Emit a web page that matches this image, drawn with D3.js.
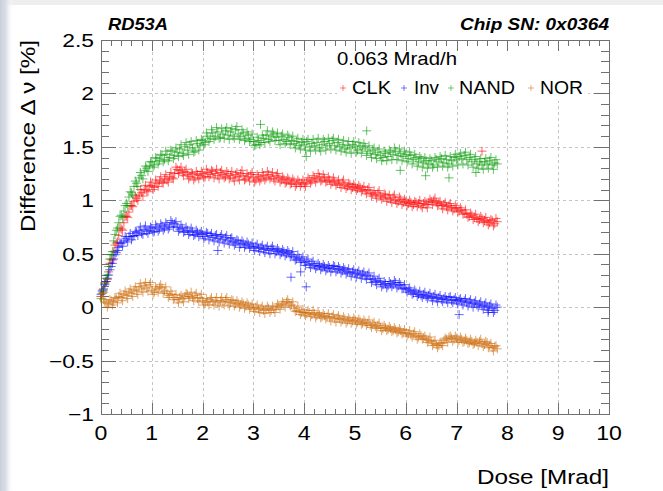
<!DOCTYPE html>
<html><head><meta charset="utf-8">
<script src="https://cdn.jsdelivr.net/npm/d3@7"></script>
<style>html,body{margin:0;padding:0;background:#fff;overflow:hidden}</style>
</head><body>
<svg id="c" width="663" height="491"></svg>
<script>
// ---------------- data ----------------
// measurement doses (two interleaved read-out sets)
const dose = [
0,0.05,0.1,0.15,0.2,0.25,0.3,0.35,0.4,0.45,
0.5,0.55,0.6,0.65,0.7,0.75,0.8,0.85,0.9,0.95,
1,1.05,1.1,1.15,1.2,1.25,1.3,1.35,1.4,1.45,
1.5,1.55,1.6,1.65,1.7,1.75,1.8,1.85,1.9,1.95,
2,2.05,2.1,2.15,2.2,2.25,2.3,2.35,2.4,2.45,
2.5,2.55,2.6,2.65,2.7,2.75,2.8,2.85,2.9,2.95,
3,3.05,3.1,3.15,3.2,3.25,3.3,3.35,3.4,3.45,
3.5,3.55,3.6,3.65,3.7,3.75,3.8,3.85,3.9,3.95,
4,4.05,4.1,4.15,4.2,4.25,4.3,4.35,4.4,4.45,
4.5,4.55,4.6,4.65,4.7,4.75,4.8,4.85,4.9,4.95,
5,5.05,5.1,5.15,5.2,5.25,5.3,5.35,5.4,5.45,
5.5,5.55,5.6,5.65,5.7,5.75,5.8,5.85,5.9,5.95,
6,6.05,6.1,6.15,6.2,6.25,6.3,6.35,6.4,6.45,
6.5,6.55,6.6,6.65,6.7,6.75,6.8,6.85,6.9,6.95,
7,7.05,7.1,7.15,7.2,7.25,7.3,7.35,7.4,7.45,
7.5,7.55,7.6,7.65,7.7,7.75,7.8];
const dose2 = [
0.025,0.075,0.125,0.175,0.225,0.275,0.325,0.375,0.425,0.475,
0.525,0.575,0.625,0.675,0.725,0.775,0.825,0.875,0.925,0.975,
1.025,1.075,1.125,1.175,1.225,1.275,1.325,1.375,1.425,1.475,
1.525,1.575,1.625,1.675,1.725,1.775,1.825,1.875,1.925,1.975,
2.025,2.075,2.125,2.175,2.225,2.275,2.325,2.375,2.425,2.475,
2.525,2.575,2.625,2.675,2.725,2.775,2.825,2.875,2.925,2.975,
3.025,3.075,3.125,3.175,3.225,3.275,3.325,3.375,3.425,3.475,
3.525,3.575,3.625,3.675,3.725,3.775,3.825,3.875,3.925,3.975,
4.025,4.075,4.125,4.175,4.225,4.275,4.325,4.375,4.425,4.475,
4.525,4.575,4.625,4.675,4.725,4.775,4.825,4.875,4.925,4.975,
5.025,5.075,5.125,5.175,5.225,5.275,5.325,5.375,5.425,5.475,
5.525,5.575,5.625,5.675,5.725,5.775,5.825,5.875,5.925,5.975,
6.025,6.075,6.125,6.175,6.225,6.275,6.325,6.375,6.425,6.475,
6.525,6.575,6.625,6.675,6.725,6.775,6.825,6.875,6.925,6.975,
7.025,7.075,7.125,7.175,7.225,7.275,7.325,7.375,7.425,7.475,
7.525,7.575,7.625,7.675,7.725,7.775];

const clk = [
0.10,0.14,0.24,0.33,0.45,0.52,0.60,0.67,0.73,0.79,
0.85,0.89,0.95,0.99,1.02,1.05,1.07,1.10,1.09,1.13,
1.14,1.12,1.16,1.18,1.17,1.20,1.19,1.22,1.21,1.25,
1.29,1.28,1.26,1.27,1.24,1.22,1.25,1.21,1.24,1.23,
1.25,1.22,1.26,1.24,1.27,1.25,1.23,1.26,1.24,1.22,
1.25,1.23,1.21,1.24,1.22,1.25,1.23,1.20,1.22,1.24,
1.21,1.19,1.22,1.20,1.23,1.21,1.24,1.22,1.20,1.23,
1.21,1.19,1.20,1.17,1.19,1.16,1.18,1.15,1.17,1.16,
1.15,1.17,1.19,1.18,1.21,1.20,1.22,1.19,1.21,1.18,
1.19,1.17,1.18,1.16,1.15,1.17,1.14,1.13,1.15,1.12,
1.13,1.11,1.12,1.10,1.09,1.10,1.07,1.06,1.05,1.07,
1.04,1.03,1.05,1.02,1.01,1.03,1.00,0.99,1.01,0.98,
0.99,0.97,0.98,0.96,0.98,0.97,0.95,0.97,0.96,0.98,
0.99,1.00,0.98,0.97,0.95,0.96,0.94,0.95,0.93,0.92,
0.93,0.90,0.91,0.88,0.87,0.85,0.86,0.84,0.83,0.82,
0.83,0.81,0.80,0.79,0.81,0.78,0.80];
const clk2 = [
0.16,0.22,0.26,0.41,0.44,0.58,0.61,0.74,0.72,0.85,
0.84,0.95,0.94,1.04,1.00,1.10,1.04,1.14,1.08,1.17,
1.10,1.19,1.13,1.22,1.16,1.24,1.17,1.26,1.20,1.31,
1.25,1.31,1.23,1.29,1.20,1.26,1.19,1.27,1.20,1.27,
1.21,1.29,1.22,1.28,1.21,1.29,1.20,1.28,1.21,1.27,
1.20,1.27,1.18,1.26,1.19,1.28,1.19,1.25,1.18,1.26,
1.17,1.24,1.18,1.26,1.19,1.27,1.20,1.26,1.18,1.25,
1.17,1.22,1.16,1.21,1.15,1.20,1.13,1.19,1.13,1.19,
1.13,1.21,1.16,1.23,1.17,1.25,1.18,1.24,1.17,1.22,
1.15,1.21,1.14,1.19,1.12,1.19,1.11,1.16,1.10,1.15,
1.09,1.14,1.08,1.13,1.06,1.12,1.04,1.09,1.02,1.09,
1.01,1.06,0.99,1.05,0.98,1.05,0.97,1.03,0.96,1.01,
0.95,1.00,0.94,0.99,0.94,1.00,0.93,0.99,0.93,1.01,
0.96,1.02,0.95,0.99,0.92,0.98,0.91,0.97,0.90,0.95,
0.89,0.93,0.87,0.91,0.84,0.88,0.82,0.87,0.80,0.85,
0.79,0.84,0.77,0.82,0.76,0.83];

const inv = [
0.12,0.17,0.24,0.30,0.38,0.45,0.51,0.56,0.60,0.62,
0.64,0.66,0.63,0.67,0.70,0.72,0.69,0.73,0.71,0.72,
0.74,0.71,0.75,0.73,0.76,0.74,0.77,0.75,0.79,0.78,
0.75,0.73,0.74,0.71,0.72,0.70,0.71,0.68,0.70,0.69,
0.68,0.66,0.69,0.67,0.65,0.67,0.64,0.66,0.63,0.65,
0.62,0.64,0.61,0.60,0.62,0.59,0.60,0.58,0.59,0.57,
0.56,0.57,0.55,0.56,0.54,0.55,0.53,0.55,0.54,0.52,
0.53,0.51,0.52,0.50,0.51,0.49,0.47,0.45,0.46,0.44,
0.42,0.43,0.40,0.41,0.39,0.38,0.39,0.37,0.38,0.36,
0.37,0.36,0.38,0.35,0.36,0.34,0.35,0.33,0.32,0.33,
0.31,0.32,0.30,0.31,0.29,0.30,0.27,0.26,0.24,0.25,
0.23,0.21,0.22,0.20,0.22,0.21,0.23,0.20,0.21,0.18,
0.17,0.16,0.15,0.13,0.14,0.12,0.11,0.12,0.10,0.11,
0.09,0.10,0.08,0.09,0.07,0.08,0.07,0.09,0.06,0.07,
0.06,0.07,0.05,0.06,0.04,0.05,0.03,0.04,0.02,0.03,
0.01,0.02,0.00,0.01,-0.01,-0.03,0.00];
const inv2 = [
0.15,0.21,0.27,0.35,0.41,0.49,0.53,0.60,0.57,0.66,
0.61,0.69,0.66,0.71,0.67,0.75,0.68,0.76,0.69,0.75,
0.70,0.77,0.71,0.78,0.72,0.79,0.73,0.81,0.75,0.80,
0.71,0.77,0.70,0.75,0.68,0.74,0.67,0.72,0.66,0.71,
0.64,0.70,0.63,0.69,0.62,0.68,0.61,0.68,0.60,0.67,
0.59,0.65,0.58,0.63,0.56,0.62,0.56,0.61,0.55,0.60,
0.53,0.59,0.52,0.58,0.51,0.57,0.50,0.57,0.50,0.55,
0.49,0.54,0.48,0.53,0.47,0.52,0.44,0.49,0.42,0.47,
0.39,0.45,0.37,0.43,0.36,0.41,0.35,0.40,0.34,0.39,
0.33,0.39,0.33,0.38,0.32,0.37,0.31,0.36,0.29,0.35,
0.28,0.34,0.27,0.33,0.26,0.32,0.23,0.29,0.21,0.27,
0.19,0.24,0.18,0.24,0.19,0.25,0.18,0.23,0.17,0.21,
0.14,0.18,0.12,0.16,0.10,0.15,0.09,0.14,0.08,0.13,
0.06,0.12,0.05,0.11,0.05,0.10,0.04,0.10,0.04,0.09,
0.03,0.08,0.02,0.08,0.01,0.07,0.00,0.06,0.00,0.05,
-0.02,0.04,-0.03,0.03,-0.05,0.02];

const nand = [
0.08,0.16,0.27,0.38,0.49,0.62,0.72,0.79,0.86,0.90,
0.97,1.03,1.07,1.13,1.16,1.21,1.23,1.28,1.30,1.32,
1.36,1.33,1.39,1.37,1.42,1.38,1.43,1.40,1.46,1.42,
1.45,1.48,1.44,1.50,1.47,1.52,1.49,1.46,1.53,1.51,
1.56,1.54,1.60,1.58,1.63,1.60,1.64,1.59,1.62,1.65,
1.61,1.64,1.60,1.66,1.62,1.60,1.63,1.58,1.61,1.57,
1.55,1.52,1.56,1.54,1.58,1.61,1.57,1.60,1.62,1.59,
1.56,1.60,1.57,1.55,1.59,1.56,1.53,1.55,1.51,1.54,
1.52,1.55,1.50,1.53,1.51,1.54,1.49,1.52,1.55,1.51,
1.53,1.56,1.51,1.54,1.50,1.52,1.48,1.51,1.49,1.52,
1.50,1.47,1.51,1.48,1.50,1.46,1.44,1.47,1.43,1.45,
1.42,1.40,1.44,1.41,1.45,1.43,1.46,1.42,1.44,1.41,
1.43,1.39,1.42,1.38,1.40,1.36,1.39,1.35,1.37,1.34,
1.37,1.33,1.38,1.36,1.39,1.35,1.38,1.34,1.37,1.40,
1.38,1.41,1.39,1.42,1.38,1.40,1.36,1.38,1.34,1.36,
1.33,1.36,1.34,1.37,1.33,1.35,1.34];
const nand2 = [
0.13,0.23,0.30,0.45,0.52,0.68,0.74,0.85,0.84,0.95,
0.95,1.08,1.05,1.18,1.13,1.26,1.20,1.32,1.27,1.36,
1.31,1.40,1.34,1.43,1.36,1.46,1.37,1.47,1.39,1.49,
1.41,1.52,1.42,1.54,1.43,1.55,1.45,1.56,1.47,1.57,
1.52,1.63,1.55,1.66,1.57,1.68,1.58,1.67,1.58,1.68,
1.57,1.67,1.58,1.69,1.57,1.66,1.56,1.64,1.55,1.62,
1.51,1.59,1.52,1.61,1.54,1.65,1.55,1.64,1.56,1.63,
1.52,1.62,1.53,1.61,1.52,1.60,1.49,1.58,1.48,1.57,
1.47,1.57,1.46,1.57,1.47,1.58,1.46,1.57,1.47,1.58,
1.48,1.58,1.47,1.57,1.46,1.56,1.45,1.55,1.44,1.55,
1.45,1.54,1.44,1.53,1.42,1.51,1.40,1.49,1.39,1.48,
1.37,1.46,1.37,1.47,1.38,1.49,1.38,1.48,1.37,1.46,
1.36,1.45,1.34,1.43,1.32,1.41,1.31,1.40,1.30,1.39,
1.31,1.40,1.31,1.41,1.32,1.42,1.31,1.41,1.32,1.43,
1.33,1.44,1.34,1.45,1.33,1.43,1.31,1.41,1.30,1.39,
1.29,1.39,1.30,1.40,1.29,1.38];

const nor = [
0.10,0.07,0.04,0.03,0.06,0.05,0.08,0.10,0.09,0.12,
0.11,0.14,0.13,0.16,0.15,0.19,0.17,0.20,0.18,0.21,
0.16,0.14,0.17,0.19,0.18,0.15,0.13,0.11,0.12,0.09,
0.07,0.09,0.08,0.10,0.12,0.10,0.09,0.11,0.08,0.09,
0.06,0.04,0.05,0.07,0.05,0.06,0.04,0.06,0.05,0.07,
0.05,0.04,0.06,0.03,0.04,0.02,0.03,0.01,0.02,0.00,
-0.01,0.00,-0.02,-0.01,-0.03,-0.02,-0.01,-0.03,-0.02,0.00,
0.01,0.02,0.03,0.05,0.04,0.02,-0.01,-0.03,-0.04,-0.05,
-0.05,-0.06,-0.05,-0.07,-0.06,-0.08,-0.07,-0.09,-0.08,-0.09,
-0.10,-0.09,-0.11,-0.10,-0.11,-0.12,-0.11,-0.13,-0.12,-0.13,
-0.12,-0.14,-0.13,-0.15,-0.14,-0.15,-0.17,-0.16,-0.18,-0.17,
-0.19,-0.20,-0.19,-0.21,-0.20,-0.22,-0.21,-0.23,-0.22,-0.24,
-0.24,-0.25,-0.26,-0.25,-0.27,-0.28,-0.27,-0.29,-0.30,-0.31,
-0.32,-0.34,-0.35,-0.36,-0.34,-0.31,-0.30,-0.28,-0.29,-0.30,
-0.29,-0.31,-0.30,-0.32,-0.31,-0.33,-0.32,-0.34,-0.33,-0.32,
-0.34,-0.35,-0.33,-0.36,-0.38,-0.37,-0.39];
const nor2 = [
0.13,0.05,0.00,0.07,0.02,0.09,0.04,0.13,0.06,0.15,
0.08,0.17,0.10,0.19,0.12,0.22,0.14,0.23,0.15,0.23,
0.12,0.19,0.14,0.21,0.13,0.19,0.09,0.15,0.07,0.12,
0.04,0.11,0.05,0.13,0.08,0.14,0.06,0.13,0.05,0.12,
0.02,0.08,0.02,0.09,0.02,0.09,0.01,0.09,0.02,0.09,
0.01,0.07,0.01,0.06,0.00,0.05,-0.01,0.04,-0.02,0.03,
-0.04,0.02,-0.05,0.01,-0.06,0.01,-0.05,0.01,-0.05,0.03,
-0.02,0.05,0.00,0.07,0.01,0.05,-0.04,0.01,-0.07,-0.02,
-0.08,-0.03,-0.09,-0.03,-0.10,-0.05,-0.10,-0.06,-0.11,-0.06,
-0.13,-0.07,-0.14,-0.08,-0.14,-0.09,-0.15,-0.10,-0.15,-0.10,
-0.16,-0.11,-0.16,-0.12,-0.17,-0.12,-0.19,-0.14,-0.20,-0.15,
-0.22,-0.17,-0.22,-0.18,-0.23,-0.19,-0.24,-0.20,-0.25,-0.21,
-0.27,-0.22,-0.28,-0.23,-0.30,-0.25,-0.30,-0.27,-0.33,-0.28,
-0.36,-0.31,-0.38,-0.33,-0.36,-0.29,-0.33,-0.27,-0.32,-0.27,
-0.33,-0.28,-0.33,-0.29,-0.34,-0.30,-0.35,-0.31,-0.36,-0.30,
-0.37,-0.32,-0.38,-0.34,-0.41,-0.36];

// isolated points [dose, value]
const clkExtra  = [[7.50,1.46]];
const invExtra  = [[2.30,0.53],[3.74,0.28],[3.93,0.33],[4.04,0.19],[7.05,-0.07],[7.62,-0.05]];
const nandExtra = [[3.14,1.71],[5.23,1.65],[4.04,1.41],[5.89,1.28],[6.39,1.23],[6.85,1.21],[7.38,1.26]];
const norExtra  = [];

const seriesNames  = ["CLK","Inv","NAND","NOR"];
const seriesColors = ["#ff0000","#0000ff","#009900","#cc6600"];
const xTickLabels = [0,1,2,3,4,5,6,7,8,9,10];
const yTickLabels = [-1,-0.5,0,0.5,1,1.5,2,2.5];
const titleLeft  = "RD53A";
const titleRight = "Chip SN: 0x0364";
const legendHeader = "0.063 Mrad/h";
const xTitle = "Dose [Mrad]";
const yTitle = "Difference Δ ν [%]";

// ---------------- drawing ----------------
const svg = d3.select("#c");
const FONT = "'Liberation Sans', Arial, Helvetica, sans-serif";
const x = d3.scaleLinear().domain([0,10]).range([101,609]);
const y = d3.scaleLinear().domain([-1,2.5]).range([414,40]);

// background (blurred photo frame)
const defs = svg.append("defs");
const lg = defs.append("linearGradient").attr("id","lgl").attr("x1","0").attr("x2","1").attr("y1","0").attr("y2","0");
lg.append("stop").attr("offset","0").attr("stop-color","#c9cfda");
lg.append("stop").attr("offset","0.4").attr("stop-color","#d9dde5");
lg.append("stop").attr("offset","1").attr("stop-color","#ffffff").attr("stop-opacity",0);
svg.append("rect").attr("x",0).attr("y",0).attr("width",663).attr("height",491).attr("fill","#ffffff");
svg.append("rect").attr("x",0).attr("y",0).attr("width",663).attr("height",5).attr("fill","#eeeeee");
svg.append("rect").attr("x",0).attr("y",0).attr("width",14).attr("height",491).attr("fill","url(#lgl)");

// grid
const grid = svg.append("g").attr("stroke","#c4c4c4").attr("stroke-width",1).attr("stroke-dasharray","3,3");
xTickLabels.filter(v=>v>0&&v<10).forEach(v=>{
  grid.append("line").attr("x1",Math.round(x(v))+0.5).attr("x2",Math.round(x(v))+0.5).attr("y1",40).attr("y2",414);
});
yTickLabels.filter(v=>v>-1&&v<2.5).forEach(v=>{
  grid.append("line").attr("x1",101).attr("x2",609).attr("y1",Math.round(y(v))+0.5).attr("y2",Math.round(y(v))+0.5);
});

// legend box (covers grid)
svg.append("rect").attr("x",337).attr("y",43).attr("width",251).attr("height",58).attr("fill","#ffffff");

// axes
const AX = "#707070";
const xMinor = d3.range(0,10.001,0.2).filter(v=>Math.abs(v-Math.round(v))>1e-6);
const yMinor = d3.range(-1,2.5001,0.1).filter(v=>Math.abs(v*2-Math.round(v*2))>1e-6);
function styleAxis(g){ g.selectAll("path,line").attr("stroke",AX).attr("shape-rendering","crispEdges"); g.selectAll("text").remove(); }
svg.append("g").attr("transform","translate(0,414)").call(d3.axisBottom(x).tickValues(xTickLabels).tickSize(-11).tickSizeOuter(0)).call(styleAxis);
svg.append("g").attr("transform","translate(0,414)").call(d3.axisBottom(x).tickValues(xMinor).tickSize(-5.5).tickSizeOuter(0)).call(styleAxis);
svg.append("g").attr("transform","translate(0,40)").call(d3.axisTop(x).tickValues(xTickLabels).tickSize(-11).tickSizeOuter(0)).call(styleAxis);
svg.append("g").attr("transform","translate(0,40)").call(d3.axisTop(x).tickValues(xMinor).tickSize(-5.5).tickSizeOuter(0)).call(styleAxis);
svg.append("g").attr("transform","translate(101,0)").call(d3.axisLeft(y).tickValues(yTickLabels).tickSize(-15).tickSizeOuter(0)).call(styleAxis);
svg.append("g").attr("transform","translate(101,0)").call(d3.axisLeft(y).tickValues(yMinor).tickSize(-8).tickSizeOuter(0)).call(styleAxis);
svg.append("g").attr("transform","translate(609,0)").call(d3.axisRight(y).tickValues(yTickLabels).tickSize(-15).tickSizeOuter(0)).call(styleAxis);
svg.append("g").attr("transform","translate(609,0)").call(d3.axisRight(y).tickValues(yMinor).tickSize(-8).tickSizeOuter(0)).call(styleAxis);

// tick labels
const fmt = v => (v<0?"\u2212":"") + Math.abs(v);
xTickLabels.forEach(v=>{
  svg.append("text").attr("transform",`translate(${x(v)},440) scale(1.1,1)`)
    .attr("text-anchor","middle").attr("font-family",FONT).attr("font-size",21).attr("fill","#000").text(fmt(v));
});
yTickLabels.forEach(v=>{
  svg.append("text").attr("transform",`translate(94,${y(v)+7}) scale(1.2,1)`)
    .attr("text-anchor","end").attr("font-family",FONT).attr("font-size",19).attr("fill","#000").text(fmt(v));
});

// data points
const cross = "M-4.5,0H4.5M0,-4.5V4.5";
const allSeries = [
  {name:seriesNames[0], a:clk,  b:clk2,  extra:clkExtra,  color:seriesColors[0]},
  {name:seriesNames[1], a:inv,  b:inv2,  extra:invExtra,  color:seriesColors[1]},
  {name:seriesNames[2], a:nand, b:nand2, extra:nandExtra, color:seriesColors[2]},
  {name:seriesNames[3], a:nor,  b:nor2,  extra:norExtra,  color:seriesColors[3]},
];
allSeries.forEach(s=>{
  const pts = dose.map((d,i)=>[d,s.a[i]])
    .concat(dose2.map((d,i)=>[d,s.b[i]]))
    .concat(s.extra);
  svg.append("g").selectAll("path").data(pts).join("path")
    .attr("d",cross).attr("transform",p=>`translate(${x(p[0])},${y(p[1])})`)
    .attr("stroke",s.color).attr("stroke-opacity",0.6).attr("stroke-width",1).attr("fill","none");
});

// legend
function label(xp,yp,str,size,len,opts={}){
  const t = svg.append("text").attr("x",xp).attr("y",yp).attr("font-family",FONT).attr("font-size",size)
    .attr("fill","#000").text(str);
  if(len) t.attr("textLength",len).attr("lengthAdjust","spacingAndGlyphs");
  if(opts.anchor) t.attr("text-anchor",opts.anchor);
  if(opts.weight) t.attr("font-weight",opts.weight);
  if(opts.style) t.attr("font-style",opts.style);
  return t;
}
label(337,65,legendHeader,18.6,120);
const legPos = [{m:343,t:352,w:39},{m:404,t:414,w:25},{m:451,t:459,w:56},{m:531,t:540,w:43}];
allSeries.forEach((s,i)=>{
  svg.append("path").attr("d","M-3,0H3M0,-3V3").attr("transform",`translate(${legPos[i].m},88)`)
    .attr("stroke",s.color).attr("stroke-opacity",0.5).attr("fill","none");
  label(legPos[i].t,94,s.name,18.6,legPos[i].w);
});

// titles
label(108,30,titleLeft,16.5,60,{weight:"bold",style:"italic"});
label(609,30,titleRight,16.5,149,{weight:"bold",style:"italic",anchor:"end"});
label(609,484,xTitle,20.5,132,{anchor:"end"});
svg.append("text").attr("transform","translate(35,40) rotate(-90)").attr("text-anchor","end")
  .attr("font-family",FONT).attr("font-size",20.5).attr("fill","#000")
  .attr("textLength",192).attr("lengthAdjust","spacingAndGlyphs").text(yTitle);
</script>
</body></html>
